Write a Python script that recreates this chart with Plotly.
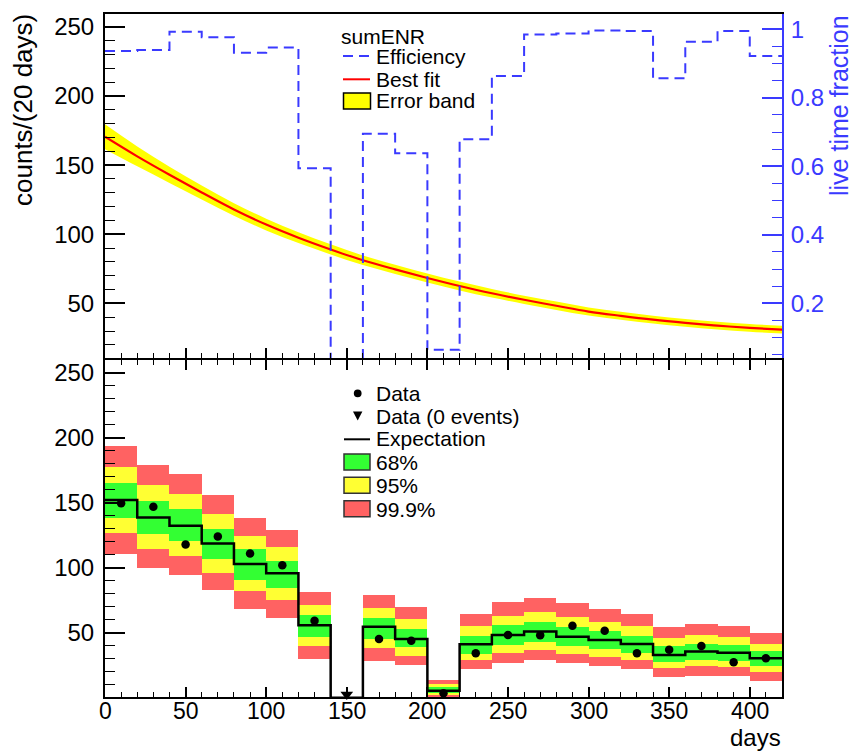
import plotly.graph_objects as go

W, H = 854, 752

# ---------------- data ----------------
bin_edges = list(range(0, 421, 20))
bin_centers = [e + 10 for e in bin_edges[:-1]]

efficiency = [0.937, 0.940, 0.993, 0.977, 0.932, 0.947, 0.594, 0.0, 0.695, 0.638, 0.064,
              0.679, 0.864, 0.985, 0.988, 0.997, 0.995, 0.857, 0.964, 0.995, 0.922]

fit_days = [0, 20, 40, 60, 80, 100, 120, 140, 160, 180, 200, 220, 240, 260, 280, 300,
            320, 340, 360, 380, 400, 420]
fit_best = [170.5, 156.3, 143.0, 130.2, 117.9, 107.0, 97.5, 89.0, 81.2, 74.6, 68.4, 62.6,
            57.3, 52.6, 48.3, 44.1, 41.0, 38.2, 35.9, 33.9, 32.3, 31.0]
fit_hi = [179.5, 163.5, 148.9, 135.3, 122.5, 111.2, 101.4, 92.7, 84.7, 78.0, 71.7, 65.8,
          60.4, 55.6, 51.3, 47.0, 43.9, 41.0, 38.7, 36.7, 35.1, 33.8]
fit_lo = [161.5, 149.1, 137.1, 125.1, 113.3, 102.8, 93.6, 85.3, 77.7, 71.2, 65.1, 59.4,
          54.2, 49.6, 45.3, 41.2, 38.1, 35.4, 33.1, 31.1, 29.5, 28.2]

expectation = [152.0, 138.6, 132.2, 118.6, 102.8, 95.7, 55.7, 0.0, 54.6, 45.1, 5.3, 41.0,
               48.2, 50.8, 46.9, 44.4, 41.2, 32.8, 35.4, 34.6, 30.3]
band68_hi = [165.0, 151.4, 145.0, 129.6, 114.3, 104.9, 63.6, None, 61.5, 52.8, 7.9, 47.4,
             55.9, 58.5, 54.6, 51.3, 47.8, 39.4, 41.5, 40.5, 35.6]
band68_lo = [138.0, 125.8, 120.7, 107.0, 90.8, 84.4, 46.9, None, 45.1, 38.7, 3.5, 33.8,
             40.5, 43.1, 39.7, 37.2, 34.1, 27.7, 29.3, 28.5, 24.2]
band95_hi = [177.5, 163.7, 156.5, 141.2, 124.0, 115.8, 71.3, None, 69.3, 60.3, 10.4, 55.0,
             63.1, 66.2, 62.3, 58.5, 54.8, 46.0, 48.2, 47.0, 41.5]
band95_lo = [126.6, 114.3, 109.2, 95.9, 82.3, 74.8, 39.7, None, 37.9, 32.2, 2.2, 28.6,
             34.4, 37.0, 33.8, 31.3, 28.6, 22.6, 24.1, 23.3, 19.6]
band999_hi = [193.6, 179.0, 172.0, 155.9, 137.9, 129.2, 81.2, None, 79.3, 70.0, 13.6, 64.6,
              73.2, 76.4, 72.6, 68.2, 64.5, 54.6, 56.6, 55.4, 49.5]
band999_lo = [110.8, 99.6, 94.4, 82.5, 68.5, 61.6, 29.7, None, 28.0, 25.1, 0.8, 21.8,
              27.0, 29.3, 26.4, 24.1, 21.8, 15.9, 17.0, 16.7, 12.9]
data_counts = [149.5, 146.8, 117.8, 123.9, 110.8, 101.9, 59.1, None, 45.1, 43.7, 3.3, 34.1,
               48.2, 48.0, 55.3, 51.4, 34.1, 36.9, 39.8, 27.2, 30.3]
zero_days = [150]
zero_level = [2.5]

x_ticks = [0, 50, 100, 150, 200, 250, 300, 350, 400]
x_tick_labels = ["0", "50", "100", "150", "200", "250", "300", "350", "400"]

# ---------------- styles ----------------
FONT = "Liberation Sans, Arial, Helvetica, sans-serif"
BLUE = "#3a3aff"
RED_BAND = "#ff6262"
YEL_BAND = "#ffff33"
GRN_BAND = "#33ff33"


def px(x):
    return x / W


def py(y):
    return 1 - y / H


XDOM = [px(105), px(782)]
TOP_DOM = [py(358), py(14)]
BOT_DOM = [py(697), py(360)]

fig = go.Figure()

# ---------------- top panel ----------------
fig.add_trace(go.Scatter(x=fit_days, y=fit_lo, mode="lines",
                         line=dict(width=0, shape="spline", smoothing=1.0),
                         xaxis="x", yaxis="y", showlegend=False, hoverinfo="skip"))
fig.add_trace(go.Scatter(x=fit_days, y=fit_hi, mode="lines",
                         line=dict(width=0, shape="spline", smoothing=1.0),
                         fill="tonexty", fillcolor="#ffff00",
                         xaxis="x", yaxis="y", showlegend=False, hoverinfo="skip"))
fig.add_trace(go.Scatter(x=fit_days, y=fit_best, mode="lines",
                         line=dict(color="#ff0000", width=2.2, shape="spline", smoothing=1.0),
                         xaxis="x", yaxis="y", showlegend=False))
fig.add_trace(go.Scatter(x=bin_edges, y=efficiency + [efficiency[-1]], mode="lines",
                         line=dict(color=BLUE, width=2, dash="10px,6px", shape="hv"),
                         xaxis="x", yaxis="y2", showlegend=False))

# ---------------- bottom panel ----------------
def band_trace(lo, hi, color):
    xs, base, height = [], [], []
    for c, l, h in zip(bin_centers, lo, hi):
        if l is None or h is None:
            continue
        xs.append(c)
        base.append(l)
        height.append(h - l)
    return go.Bar(x=xs, y=height, base=base, width=20, marker=dict(color=color, line=dict(width=0)),
                  xaxis="x3", yaxis="y3", showlegend=False, hoverinfo="skip")


fig.add_trace(band_trace(band999_lo, band999_hi, RED_BAND))
fig.add_trace(band_trace(band95_lo, band95_hi, YEL_BAND))
fig.add_trace(band_trace(band68_lo, band68_hi, GRN_BAND))

fig.add_trace(go.Scatter(x=bin_edges, y=expectation + [expectation[-1]], mode="lines",
                         line=dict(color="black", width=2.5, shape="hv"),
                         xaxis="x3", yaxis="y3", showlegend=False))

dx = [c for c, d in zip(bin_centers, data_counts) if d is not None]
dy = [d for d in data_counts if d is not None]
fig.add_trace(go.Scatter(x=dx, y=dy, mode="markers",
                         marker=dict(color="black", size=8.5, symbol="circle"),
                         xaxis="x3", yaxis="y3", showlegend=False))
fig.add_trace(go.Scatter(x=zero_days, y=zero_level, mode="markers", cliponaxis=False,
                         marker=dict(color="black", size=11, symbol="triangle-down"),
                         xaxis="x3", yaxis="y3", showlegend=False))

# ---------------- axes ----------------
tickfont = dict(family=FONT, size=24, color="black")
common_x = dict(range=[0, 420], domain=XDOM, showgrid=False, zeroline=False,
                showline=True, linecolor="black", linewidth=2,
                ticks="inside", ticklen=10, tickwidth=1.5, tickcolor="black",
                tick0=0, dtick=50,
                minor=dict(ticks="inside", ticklen=5, tickwidth=1, tickcolor="black",
                           tick0=0, dtick=10))
common_y = dict(showgrid=False, zeroline=False, showline=True, linecolor="black", linewidth=2,
                ticks="inside", ticklen=20, tickwidth=1.5, tickcolor="black",
                tick0=0, dtick=50, tickfont=tickfont, ticklabelstandoff=4,
                minor=dict(ticks="inside", ticklen=10, tickwidth=1, tickcolor="black",
                           tick0=0, dtick=10))

fig.update_layout(
    xaxis=dict(common_x, anchor="y", showticklabels=False, mirror=True),
    yaxis=dict(common_y, domain=TOP_DOM, range=[10.5, 259.3], anchor="x"),
    yaxis2=dict(overlaying="y", side="right", anchor="x", range=[0.04, 1.045],
                showgrid=False, zeroline=False, showline=True, linecolor=BLUE, linewidth=2,
                ticks="inside", ticklen=20, tickwidth=1.5, tickcolor=BLUE,
                tick0=0, dtick=0.2, tickfont=dict(family=FONT, size=24, color=BLUE),
                ticklabelstandoff=2,
                minor=dict(ticks="inside", ticklen=10, tickwidth=1, tickcolor=BLUE,
                           tick0=0, dtick=0.05)),
    xaxis3=dict(common_x, anchor="y3", mirror="ticks", tickvals=x_ticks,
                showticklabels=False),
    yaxis3=dict(common_y, domain=BOT_DOM, range=[0.5, 259.7], anchor="x3", mirror=True),
)

# ---------------- titles ----------------
annotations = [
    dict(text="counts/(20 days)", x=px(23), y=py(110), xref="paper", yref="paper",
         textangle=-90, showarrow=False, font=dict(family=FONT, size=26, color="black"),
         xanchor="center", yanchor="middle"),
    dict(text="live time fraction", x=px(839), y=py(106), xref="paper", yref="paper",
         textangle=-90, showarrow=False, font=dict(family=FONT, size=25, color=BLUE),
         xanchor="center", yanchor="middle"),
    dict(text="days", x=px(783), y=py(737.5), xref="paper", yref="paper",
         showarrow=False, font=dict(family=FONT, size=24, color="black"),
         xanchor="right", yanchor="middle"),
]

# x tick labels of the bottom panel, placed on the x3 scale
for tv, tl in zip(x_ticks, x_tick_labels):
    annotations.append(dict(text=tl, x=tv, y=py(710.5), xref="x3", yref="paper",
                            showarrow=False, font=dict(family=FONT, size=23, color="black"),
                            xanchor="center", yanchor="middle", borderpad=0))

# ---------------- legends (drawn manually, ROOT style) ----------------
LFONT = dict(family=FONT, size=21, color="black")
TX = px(374)


def leg_text(t, yc, x=TX):
    annotations.append(dict(text=t, x=x, y=py(yc), xref="paper", yref="paper",
                            showarrow=False, font=LFONT, xanchor="left", yanchor="middle"))


shapes = []
# top legend
leg_text("sumENR", 36.5, x=px(339))
leg_text("Efficiency", 56.5)
leg_text("Best fit", 79)
leg_text("Error band", 101)
shapes.append(dict(type="line", xref="paper", yref="paper", x0=px(343), x1=px(370),
                   y0=py(56), y1=py(56), line=dict(color=BLUE, width=2, dash="10px,6px")))
shapes.append(dict(type="line", xref="paper", yref="paper", x0=px(343), x1=px(370),
                   y0=py(79.3), y1=py(79.3), line=dict(color="#ff0000", width=2)))
shapes.append(dict(type="rect", xref="paper", yref="paper", x0=px(343.5), x1=px(370.5),
                   y0=py(109), y1=py(93), fillcolor="#ffff00", line=dict(color="black", width=1.5)))

# bottom legend
leg_text("Data", 393)
leg_text("Data (0 events)", 416)
leg_text("Expectation", 438.5)
leg_text("68%", 462)
leg_text("95%", 485.5)
leg_text("99.9%", 509)
shapes.append(dict(type="circle", xref="paper", yref="paper", x0=px(353.8), x1=px(361.6),
                   y0=py(397.2), y1=py(389.4), fillcolor="black", line=dict(color="black", width=0)))
shapes.append(dict(type="path", xref="paper", yref="paper",
                   path=f"M {px(353)},{py(411.5)} L {px(362.4)},{py(411.5)} L {px(357.7)},{py(420.5)} Z",
                   fillcolor="black", line=dict(color="black", width=0)))
shapes.append(dict(type="line", xref="paper", yref="paper", x0=px(344), x1=px(370),
                   y0=py(439.3), y1=py(439.3), line=dict(color="black", width=2)))
for (y0, y1, col) in [(454, 470, GRN_BAND), (477.3, 493.3, YEL_BAND), (500.7, 516.7, RED_BAND)]:
    shapes.append(dict(type="rect", xref="paper", yref="paper", x0=px(344), x1=px(370),
                       y0=py(y1), y1=py(y0), fillcolor=col, line=dict(color="#333333", width=1.5)))

fig.update_layout(
    width=W, height=H, autosize=False,
    margin=dict(l=0, r=0, t=0, b=0),
    paper_bgcolor="white", plot_bgcolor="white",
    barmode="overlay", bargap=0,
    showlegend=False,
    annotations=annotations, shapes=shapes,
    font=dict(family=FONT),
)

fig.write_html("out.html")
